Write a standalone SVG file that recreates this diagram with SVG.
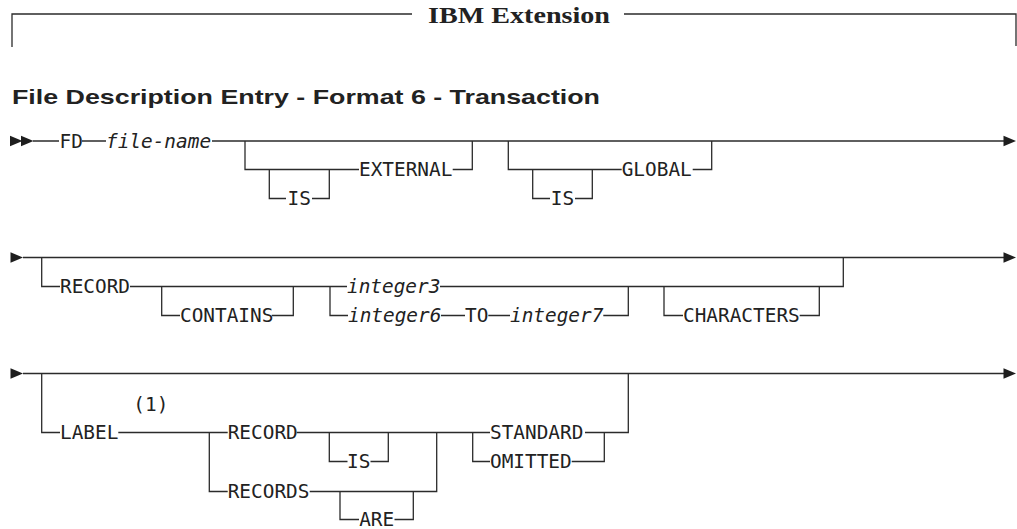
<svg xmlns="http://www.w3.org/2000/svg" xmlns:xlink="http://www.w3.org/1999/xlink" width="1017" height="529" viewBox="0 0 1017 529">
<style>
.bg{fill:#ffffff}
.ln{fill:none;stroke:#2b2b2b;stroke-width:1.3}
.ah{fill:#1e1e1e}
.t{font-family:"DejaVu Sans Mono","Liberation Mono",monospace;font-size:19.4px;fill:#222}
.i{font-style:italic}
.m{text-anchor:middle}
.hdr{font-family:"Liberation Serif",serif;font-weight:bold;font-size:23px;fill:#222}
.ttl{font-family:"Liberation Sans",Arial,sans-serif;font-weight:bold;font-size:21px;fill:#222}
</style>
<defs>
<path id="arr" d="M0,-5.2 L12.5,0 L0,5.2 Z"/>
</defs>
<rect class="bg" x="0" y="0" width="1017" height="529"/>

<g id="header">
<path class="ln" d="M12,47 V14 H412 M624,14 H1016 V46"/>
<text class="hdr" x="428" y="22.5" textLength="182" lengthAdjust="spacingAndGlyphs">IBM Extension</text>
</g>
<g id="title">
<text class="ttl" x="12" y="104" textLength="588" lengthAdjust="spacingAndGlyphs">File Description Entry - Format 6 - Transaction</text>
</g>

<g id="connectors">
<!-- row 1 -->
<use href="#arr" class="ah" x="10" y="141"/>
<use href="#arr" class="ah" x="21" y="141"/>
<path class="ln" d="M33,141 H59 M82,141 H106 M212,141 H1004"/>
<path class="ln" d="M245,141 V169.5 H359 M269.3,169.5 V198.5 H286 M312,198.5 H329.3 V169.5 M452.7,169.5 H472.3 V141"/>
<path class="ln" d="M508.3,141 V169.5 H621.7 M532.7,169.5 V198.5 H550 M575,198.5 H592.3 V169.5 M692.7,169.5 H711.7 V141"/>
<use href="#arr" class="ah" x="1003.5" y="141"/>
<!-- row 2 -->
<use href="#arr" class="ah" x="10.5" y="257.5"/>
<path class="ln" d="M23,257.5 H1004"/>
<path class="ln" d="M41.7,257.5 V286.5 H60 M130,286.5 H347 M161.7,286.5 V315.5 H180 M271.7,315.5 H293.3 V286.5"/>
<path class="ln" d="M330,286.5 V315.5 H348 M441,315.5 H465 M488.3,315.5 H510 M603.3,315.5 H628.3 V286.5 M440,286.5 H843.3 V257.5"/>
<path class="ln" d="M664,286.5 V315.5 H683 M799.7,315.5 H819.3 V286.5"/>
<use href="#arr" class="ah" x="1003.5" y="257.5"/>
<!-- row 3 -->
<use href="#arr" class="ah" x="10.5" y="373.5"/>
<path class="ln" d="M23,373.5 H1004"/>
<path class="ln" d="M41.7,373.5 V432.5 H60 M118.3,432.5 H227.7 M209.3,432.5 V491.5 H227.7 M296.7,432.5 H490"/>
<path class="ln" d="M329.3,432.5 V461.5 H347.5 M370.5,461.5 H388.3 V432.5 M309.7,491.5 H436.7 V432.5 M340,491.5 V519.5 H359 M394.5,519.5 H413.3 V491.5"/>
<path class="ln" d="M472.7,432.5 V461.5 H490 M571.7,461.5 H604.3 V432.5 M585,432.5 H628.3 V373.5"/>
<use href="#arr" class="ah" x="1003.5" y="373.5"/>
</g>

<g id="n-fd"><text class="t" x="59.5" y="147.7">FD</text></g>
<g id="n-file-name"><text class="t i" x="106" y="147.7">file-name</text></g>
<g id="n-is-1"><text class="t m" x="299.3" y="205.2">IS</text></g>
<g id="n-external"><text class="t" x="359" y="176.2">EXTERNAL</text></g>
<g id="n-is-2"><text class="t m" x="562.5" y="205.2">IS</text></g>
<g id="n-global"><text class="t" x="621.7" y="176.2">GLOBAL</text></g>

<g id="n-record-1"><text class="t" x="60" y="293.2">RECORD</text></g>
<g id="n-contains"><text class="t" x="180" y="322.2">CONTAINS</text></g>
<g id="n-integer3"><text class="t i" x="347" y="293.2">integer3</text></g>
<g id="n-integer6"><text class="t i" x="348" y="322.2">integer6</text></g>
<g id="n-to"><text class="t" x="465" y="322.2">TO</text></g>
<g id="n-integer7"><text class="t i" x="510" y="322.2">integer7</text></g>
<g id="n-characters"><text class="t" x="683" y="322.2">CHARACTERS</text></g>

<g id="n-label"><text class="t" x="60" y="439.2">LABEL</text></g>
<g id="n-note1"><text class="t" x="133.3" y="411">(1)</text></g>
<g id="n-record-2"><text class="t" x="227.7" y="439.2">RECORD</text></g>
<g id="n-is-3"><text class="t m" x="358.8" y="468.2">IS</text></g>
<g id="n-records"><text class="t" x="227.7" y="498.2">RECORDS</text></g>
<g id="n-are"><text class="t m" x="376.7" y="525.5">ARE</text></g>
<g id="n-standard"><text class="t" x="490" y="439.2">STANDARD</text></g>
<g id="n-omitted"><text class="t" x="490" y="468.2">OMITTED</text></g>
</svg>
